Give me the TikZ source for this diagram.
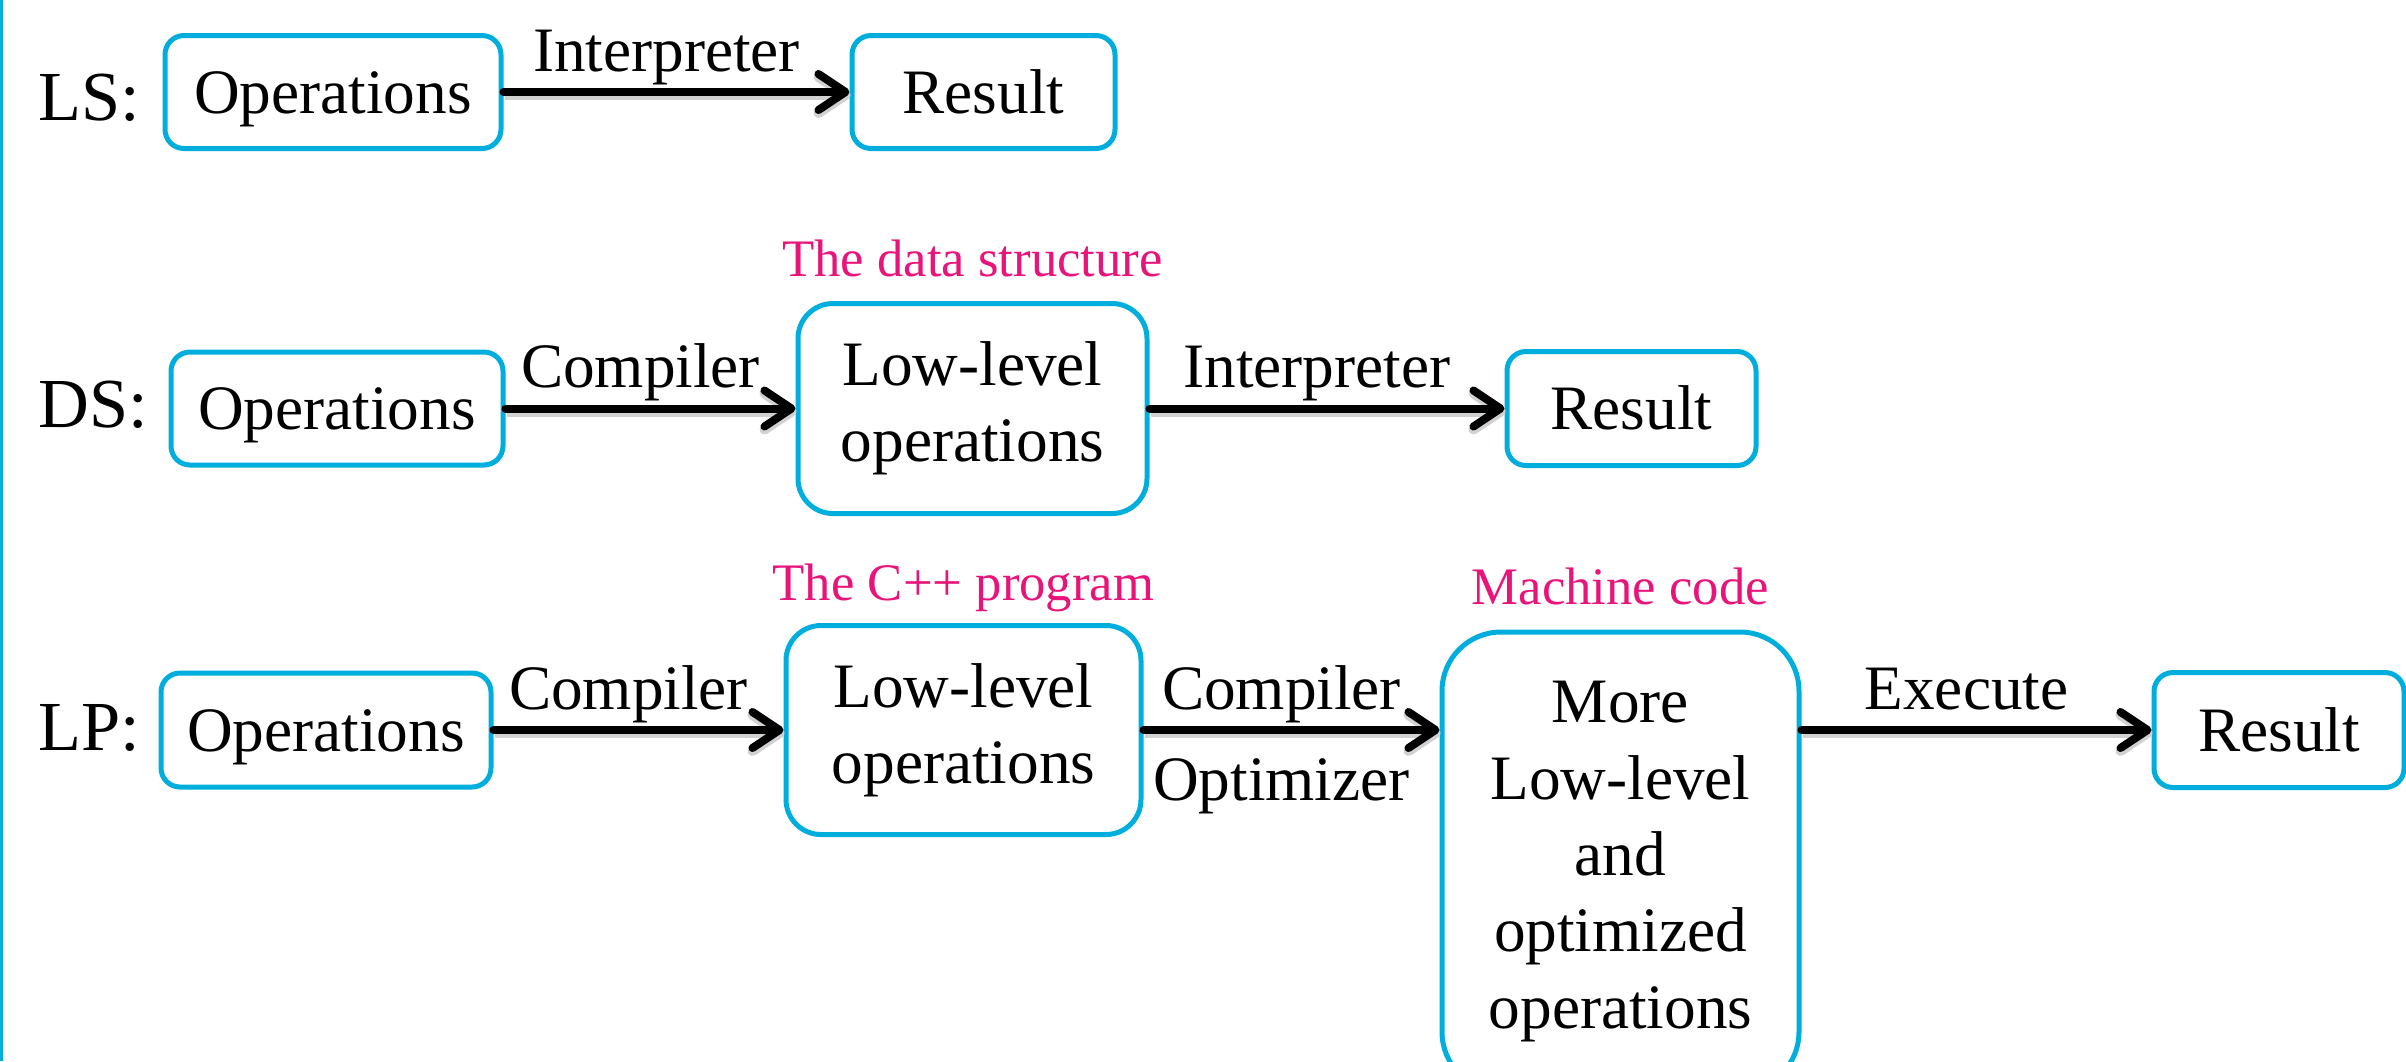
\documentclass[tikz,border=0pt]{standalone}
\usepackage{fontspec}
\setmainfont{Liberation Serif}
\usetikzlibrary{arrows.meta,positioning}
\definecolor{boxblue}{RGB}{0,174,222}
\definecolor{tagpink}{RGB}{232,20,122}

\begin{document}
\begin{tikzpicture}[
  box/.style={draw=boxblue, line width=0.05cm, rounded corners=0.19cm, align=center, inner sep=0pt, font=\fontsize{18}{21.7}\selectfont},
  opbox/.style={box, text height=0.565cm, text depth=0.137cm},
  midbox/.style={box, rounded corners=0.35cm},
  bigbox/.style={box, rounded corners=0.59cm},
  row/.style={anchor=base, font=\fontsize{20}{24}\selectfont},
  tag/.style={text=tagpink, font=\fontsize{15}{18}\selectfont},
  flow/.style={-{Straight Barb[round, length=0.27cm, width=0.36cm]}, line width=0.08cm, line cap=round,
    preaction={draw=black!18, line width=0.1cm, transform canvas={shift={(0.01,-0.03)}}}},
  lbl/.style={font=\fontsize{18}{21.7}\selectfont, text depth=0.22em, inner sep=0.09cm, xshift=-0.1cm}
]
  \useasboundingbox (0,0) rectangle (24.06,-10.61);
  \draw[boxblue, line width=0.03cm] (0.015,0) -- (0.015,-10.61);

  % LS
  \node[row] (lstxt) at (0.89,-1.20) {LS:};
  \node[opbox, minimum width=3.36cm, minimum height=1.13cm] (lsop) at (3.33,-0.92) {Operations};
  \node[opbox, minimum width=2.63cm, minimum height=1.13cm] (lsres) at (9.835,-0.92) {Result};
  \draw[flow] (lsop) -- node[lbl, above] {Interpreter} (lsres);

  % DS
  \node[row] (dstxt) at (0.93,-4.27) {DS:};
  \node[opbox, minimum width=3.32cm, minimum height=1.13cm] (dsop) at (3.37,-4.085) {Operations};
  \node[midbox, minimum width=3.49cm, minimum height=2.10cm] (dslow) at (9.725,-4.085) {Low-level\\operations};
  \node[opbox, minimum width=2.49cm, minimum height=1.14cm] (dsres) at (16.315,-4.085) {Result};
  \node[tag, above=0.25cm of dslow.north, anchor=base] (dstag) {The data structure};
  \draw[flow] (dsop) -- node[lbl, above] {Compiler} (dslow);
  \draw[flow] (dslow) -- node[lbl, above] {Interpreter} (dsres);

  % LP
  \node[row] (lptxt) at (0.89,-7.50) {LP:};
  \node[opbox, minimum width=3.30cm, minimum height=1.14cm] (lpop) at (3.26,-7.30) {Operations};
  \node[midbox, minimum width=3.55cm, minimum height=2.09cm] (lplow) at (9.635,-7.30) {Low-level\\operations};
  \node[bigbox, minimum width=3.57cm, minimum height=4.59cm] (lpmach) at (16.205,-8.615) {More\\Low-level\\and\\optimized\\operations};
  \node[opbox, minimum width=2.50cm, minimum height=1.15cm] (lpres) at (22.79,-7.30) {Result};
  \node[tag, above=0.23cm of lplow.north, anchor=base] (lptag) {The C++ program};
  \node[tag, above=0.25cm of lpmach.north, anchor=base] (mctag) {Machine code};
  \draw[flow] (lpop) -- node[lbl, above] {Compiler} (lplow);
  \draw[flow] (lplow.east) -- node[lbl, above] {Compiler} node[lbl, below=0.16cm] {Optimizer} (lplow.east -| lpmach.west);
  \draw[flow] (lpres.west -| lpmach.east) -- node[lbl, above] {Execute} (lpres.west);
\end{tikzpicture}
\end{document}
